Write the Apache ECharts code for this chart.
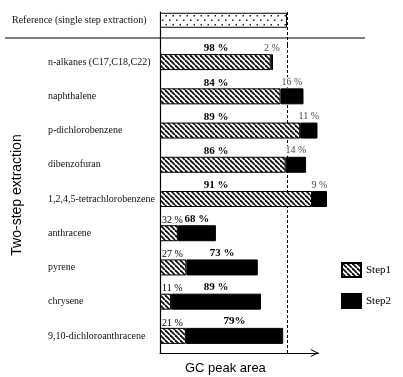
<!DOCTYPE html>
<html>
<head>
<meta charset="utf-8">
<script src="https://cdn.jsdelivr.net/npm/echarts@6/dist/echarts.min.js"></script>
<style>
  html, body { margin: 0; padding: 0; background: #fff; }
  #chart { width: 403px; height: 377px; }
</style>
</head>
<body>
<div id="chart"></div>
<script>
// Compounds extracted in two steps (top to bottom)
const categories = [
  'n-alkanes (C17,C18,C22)',
  'naphthalene',
  'p-dichlorobenzene',
  'dibenzofuran',
  '1,2,4,5-tetrachlorobenzene',
  'anthracene',
  'pyrene',
  'chrysene',
  '9,10-dichloroanthracene'
];
// Total GC peak area of the two-step extraction (single step reference = 100)
const totalArea = [89, 113, 124, 115, 131.5, 44, 77, 79.5, 97];
// Share of the total recovered in each step, in %
const step1Share = [98, 84, 89, 86, 91, 32, 27, 11, 21];
const step2Share = [2, 16, 11, 14, 9, 68, 73, 89, 79];
// Printed share labels
const step1Labels = ['98 %', '84 %', '89 %', '86 %', '91 %', '32 %', '27 %', '11 %', '21 %'];
const step2Labels = ['2 %', '16 %', '11 %', '14 %', '9 %', '68 %', '73 %', '89 %', '79%'];
// Reference: single step extraction
const refLabel = 'Reference (single step extraction)';
const refValue = 100;
const axisMax = 125;

const SERIF = '"Liberation Serif", "Times New Roman", serif';
const SANS = '"Liberation Sans", Arial, sans-serif';

function hatchPattern() {
  const c = document.createElement('canvas');
  c.width = 5; c.height = 5;
  const g = c.getContext('2d');
  g.fillStyle = '#fff';
  g.fillRect(0, 0, 5, 5);
  g.strokeStyle = '#111';
  g.lineWidth = 1.8;
  [-5, 0, 5].forEach(function (o) {
    g.beginPath();
    g.moveTo(o, 0);
    g.lineTo(o + 5, 5);
    g.stroke();
  });
  return c;
}

function dotPattern() {
  const c = document.createElement('canvas');
  c.width = 7; c.height = 9;
  const g = c.getContext('2d');
  g.fillStyle = '#fff';
  g.fillRect(0, 0, 7, 9);
  g.fillStyle = '#222';
  g.fillRect(1, 1.5, 1.5, 1.5);
  g.fillRect(4.5, 6, 1.5, 1.5);
  return c;
}

const majorLabel = { fontFamily: SERIF, fontSize: 11, fontWeight: 'bold', color: '#000' };
const minorLabel = { fontFamily: SERIF, fontSize: 10, fontWeight: 'normal', color: '#000' };

const step1Data = categories.map(function (c, i) {
  const major = step1Share[i] > 50;
  const label = major
    ? Object.assign({ show: true, position: [56, 0], align: 'center', verticalAlign: 'bottom' }, majorLabel)
    : Object.assign({ show: true, position: [2, 0], align: 'left', verticalAlign: 'bottom' }, minorLabel);
  label.formatter = step1Labels[i];
  return { value: totalArea[i] * step1Share[i] / 100, label: label };
});

const step2Data = categories.map(function (c, i) {
  const major = step2Share[i] > 50;
  const label = major
    ? Object.assign({ show: true, position: 'top', distance: 1 }, majorLabel)
    : Object.assign({ show: true, position: 'top', distance: 1 }, minorLabel,
        { color: '#4a4a4a', backgroundColor: '#fff', padding: [0, 1, 0, 1] });
  label.formatter = step2Labels[i];
  return { value: totalArea[i] * step2Share[i] / 100, label: label };
});

const refLine = {
  silent: true,
  symbol: 'none',
  z: 1,
  label: { show: false },
  lineStyle: { color: '#000', width: 1, type: [3, 2] },
  data: [{ xAxis: refValue }]
};

const chart = echarts.init(document.getElementById('chart'), null, { renderer: 'canvas' });

chart.setOption({
  animation: false,
  backgroundColor: '#fff',
  grid: [
    { left: 160, top: 45, width: 158.75, height: 308, containLabel: false, outerBoundsMode: 'none' },
    { left: 160, top: 12, width: 158.75, height: 33, containLabel: false, outerBoundsMode: 'none' }
  ],
  legend: {
    data: ['Step1', 'Step2'],
    orient: 'vertical',
    left: 341,
    top: 262,
    padding: 0,
    itemWidth: 19,
    itemHeight: 14,
    itemGap: 15,
    icon: 'rect',
    textStyle: { fontFamily: SERIF, fontSize: 11, color: '#000' }
  },
  xAxis: [
    {
      gridIndex: 0,
      type: 'value',
      min: 0,
      max: axisMax,
      name: 'GC peak area',
      nameLocation: 'middle',
      nameGap: 9,
      nameTextStyle: { fontFamily: SANS, fontSize: 13, color: '#000', padding: [0, 28, 0, 0] },
      splitLine: { show: false },
      axisTick: { show: false },
      axisLabel: { show: false },
      axisLine: {
        show: true,
        lineStyle: { color: '#000', width: 1 },
        symbol: ['none', 'path://M0,10 L5,0 L10,10 L8.6,10 L5,2.8 L1.4,10 Z'],
        symbolSize: [9, 8],
        symbolOffset: [0, -4]
      }
    },
    {
      gridIndex: 1,
      type: 'value',
      min: 0,
      max: axisMax,
      show: false
    }
  ],
  yAxis: [
    {
      gridIndex: 0,
      type: 'category',
      data: categories,
      inverse: true,
      name: 'Two-step extraction',
      nameLocation: 'middle',
      nameRotate: 90,
      nameGap: 136,
      nameTextStyle: { fontFamily: SANS, fontSize: 14, color: '#000', padding: [0, 0, 0, 8] },
      axisTick: { show: false },
      axisLine: { show: true, lineStyle: { color: '#000', width: 1.2 } },
      axisLabel: { align: 'left', margin: 112, fontFamily: SERIF, fontSize: 10, color: '#111' },
      splitLine: { show: false }
    },
    {
      gridIndex: 1,
      type: 'category',
      data: [refLabel, ''],
      inverse: true,
      axisTick: { show: false },
      axisLine: { show: true, lineStyle: { color: '#000', width: 1.2 } },
      axisLabel: { align: 'left', margin: 148, fontFamily: SERIF, fontSize: 10, color: '#111' },
      splitLine: { show: false }
    }
  ],
  graphic: [
    {
      type: 'line',
      shape: { x1: 5, y1: 38, x2: 365, y2: 38 },
      style: { stroke: '#000', lineWidth: 1 },
      z: 10
    }
  ],
  series: [
    {
      name: 'Reference',
      type: 'bar',
      xAxisIndex: 1,
      yAxisIndex: 1,
      barWidth: 15,
      data: [refValue, '-'],
      itemStyle: { color: { image: dotPattern(), repeat: 'repeat' }, borderColor: '#000', borderWidth: 1 },
      markLine: refLine
    },
    {
      name: 'Step1',
      type: 'bar',
      stack: 'two',
      barWidth: 16,
      clip: false,
      data: step1Data,
      itemStyle: { color: { image: hatchPattern(), repeat: 'repeat' }, borderColor: '#000', borderWidth: 1 },
      markLine: refLine
    },
    {
      name: 'Step2',
      type: 'bar',
      stack: 'two',
      barWidth: 16,
      clip: false,
      data: step2Data,
      itemStyle: { color: '#000', borderColor: '#000', borderWidth: 1 }
    }
  ]
});
</script>
</body>
</html>
